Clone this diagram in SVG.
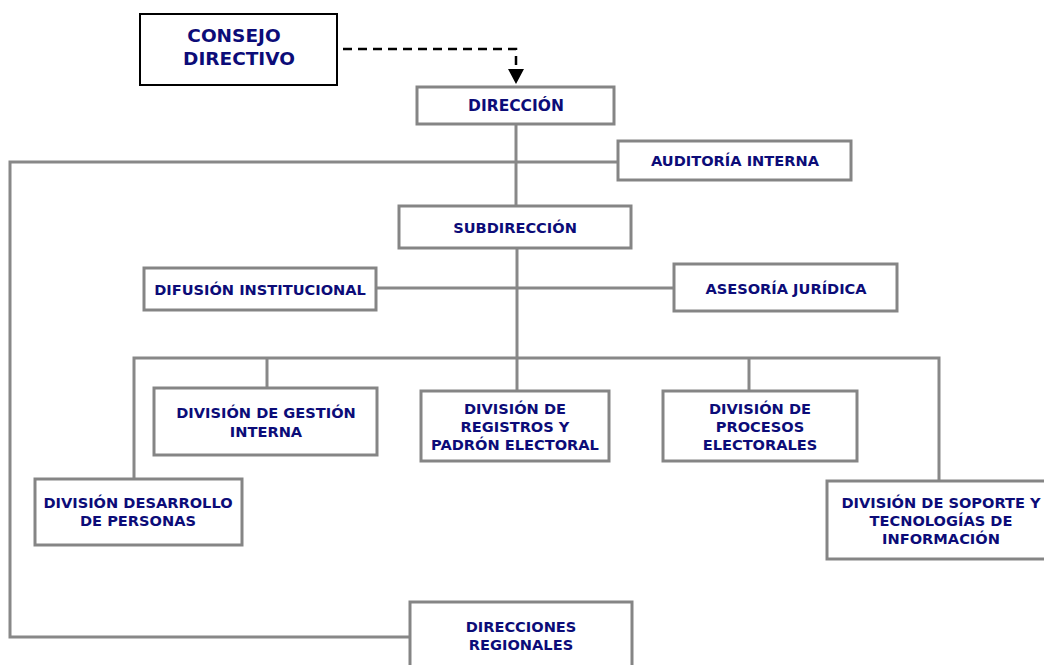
<svg xmlns="http://www.w3.org/2000/svg" width="1044" height="665" viewBox="0 0 1044 665">
<style>
.box{fill:#fff;stroke:#858585;stroke-width:3}
.top{fill:#fff;stroke:#000;stroke-width:2}
.ln{fill:none;stroke:#888;stroke-width:3}
text{font-family:"DejaVu Sans","Verdana",sans-serif;font-weight:bold;font-size:14.6px;fill:#0c0c78;text-anchor:middle}
.big{font-size:18.5px}
</style>
<g id="connectors">
<path d="M343,49 H516 V70" fill="none" stroke="#000" stroke-width="2.5" stroke-dasharray="9,6"/>
<path d="M508,69 L524,69 L516,84 Z" fill="#000"/>
<path class="ln" d="M516,124 V206"/>
<path class="ln" d="M618,162 H10 V637 H410"/>
<path class="ln" d="M517,248 V358"/>
<path class="ln" d="M376,288 H674"/>
<path class="ln" d="M134,478 V358 H939 V480"/>
<path class="ln" d="M267,358 V388"/>
<path class="ln" d="M517,358 V391"/>
<path class="ln" d="M749,358 V391"/>
</g>
<g id="consejo"><rect class="top" x="140" y="14" width="197" height="71"/><text class="big" x="234" y="42">CONSEJO</text><text class="big" x="239" y="65">DIRECTIVO</text></g>
<g id="direccion"><rect class="box" x="417" y="87" width="197" height="37"/><text x="516" y="111" style="font-size:15.5px">DIRECCIÓN</text></g>
<g id="auditoria"><rect class="box" x="618" y="141" width="233" height="39"/><text x="735" y="166">AUDITORÍA INTERNA</text></g>
<g id="subdireccion"><rect class="box" x="399" y="206" width="232" height="42"/><text x="515" y="233">SUBDIRECCIÓN</text></g>
<g id="difusion"><rect class="box" x="144" y="268" width="232" height="42"/><text x="260" y="295">DIFUSIÓN INSTITUCIONAL</text></g>
<g id="asesoria"><rect class="box" x="674" y="264" width="223" height="47"/><text x="786" y="294">ASESORÍA JURÍDICA</text></g>
<g id="gestion"><rect class="box" x="154" y="388" width="223" height="67"/><text x="266" y="418">DIVISIÓN DE GESTIÓN</text><text x="266" y="437">INTERNA</text></g>
<g id="registros"><rect class="box" x="421" y="391" width="188" height="70"/><text x="515" y="414">DIVISIÓN DE</text><text x="515" y="432">REGISTROS Y</text><text x="515" y="450">PADRÓN ELECTORAL</text></g>
<g id="procesos"><rect class="box" x="663" y="391" width="194" height="70"/><text x="760" y="414">DIVISIÓN DE</text><text x="760" y="432">PROCESOS</text><text x="760" y="450">ELECTORALES</text></g>
<g id="desarrollo"><rect class="box" x="35" y="479" width="207" height="66"/><text x="138" y="508">DIVISIÓN DESARROLLO</text><text x="138" y="526">DE PERSONAS</text></g>
<g id="soporte"><rect class="box" x="827" y="481" width="230" height="78"/><text x="941" y="508">DIVISIÓN DE SOPORTE Y</text><text x="941" y="526">TECNOLOGÍAS DE</text><text x="941" y="544">INFORMACIÓN</text></g>
<g id="regionales"><rect class="box" x="410" y="602" width="222" height="70"/><text x="521" y="632">DIRECCIONES</text><text x="521" y="650">REGIONALES</text></g>
</svg>
